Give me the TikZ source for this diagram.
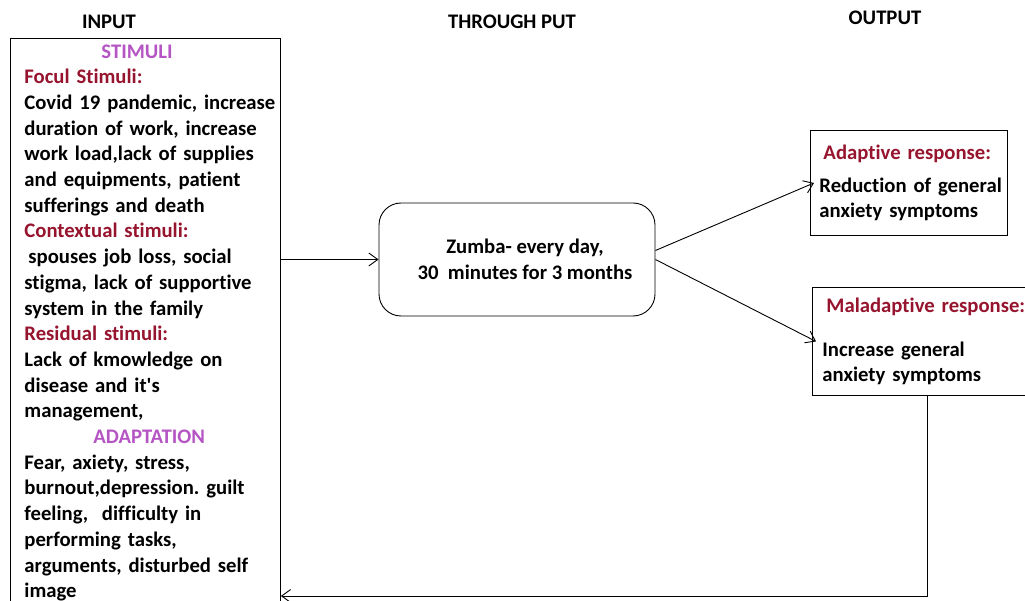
\documentclass[tikz,border=0pt]{standalone}
\usepackage{fontspec}
\setmainfont{Carlito}[Ligatures={TeX,NoCommon}]
\usetikzlibrary{positioning,arrows.meta}
\definecolor{headpurple}{RGB}{180,85,195}
\definecolor{headred}{RGB}{150,20,45}
\frenchspacing
\tikzset{
roy/.style={
    >={Straight Barb[length=9pt,width=13pt]},
    x=1pt,
    y=-1pt,
    line width=0.9pt,
    font=\bfseries\fontsize{20.7}{25.7}\selectfont
},
title/.style={
    anchor=center,
    inner sep=0pt
},
box/.style={
    draw,
    rectangle,
    anchor=north west,
    align=left,
    inner xsep=0pt
},
process/.style={
    draw,
    rounded corners=22pt,
    minimum width=276pt,
    minimum height=113pt,
    align=center
},
flows/.style={
    ->
}}

\begin{document}
\begin{tikzpicture}[roy]
\useasboundingbox (0,0) rectangle (1025,601);

\node[title]    (tin)     at (109,22)    {INPUT};
\node[title]    (tthru)   at (512,22)    {THROUGH PUT};
\node[title]    (tout)    at (885,18)    {OUTPUT};

\node[box, text width=270pt, inner ysep=6pt]    (input)    at (10,38)    {%
\leftskip=14pt
\hspace*{77pt}\textcolor{headpurple}{STIMULI}\\
\textcolor{headred}{Focul Stimuli:}\\
Covid 19 pandemic, increase\\
duration of work, increase\\
work load,lack of supplies\\
and equipments, patient\\
sufferings and death\\
\textcolor{headred}{Contextual stimuli:}\\
\hspace*{4pt}spouses job loss, social\\
stigma, lack of supportive\\
system in the family\\
\textcolor{headred}{Residual stimuli:}\\
Lack of kmowledge on\\
disease and it\textquotesingle s\\
management,\\
\hspace*{69pt}\textcolor{headpurple}{ADAPTATION}\\
Fear, axiety, stress,\\
burnout,depression. guilt\\
feeling,\ \ difficulty in\\
performing tasks,\\
arguments, disturbed self\\
image\\[22pt]};

\node[process]    (zumba)    at (517,259.5)    {\hspace*{16pt}Zumba- every day,\\\hspace*{16pt}30\ \ minutes for 3 months};

\node[box, text width=197pt, minimum height=105pt]    (adaptive)    at (810,130)    {%
\leftskip=9pt
\hspace*{4pt}\textcolor{headred}{Adaptive response:}\\[7pt]
Reduction of general\\
anxiety symptoms\par};

\node[box, text width=230pt, minimum height=108pt]    (malad)    at (812,287)    {%
\leftskip=10pt
\hspace*{4pt}\textcolor{headred}{Maladaptive response:}\\[18pt]
Increase general\\
anxiety symptoms\par\vspace*{6pt}};

\coordinate    (fb)    at (600,596);

\draw[flows]    (input.east |- zumba.west) -- (zumba.west);
\draw[flows]    ([yshift=9pt]zumba.east) -- ([xshift=4pt]adaptive.west);
\draw[flows]    (zumba.east) -- ([xshift=4pt]malad.west);
\draw[flows]    (malad.south) -- (malad.south |- fb) -- (input.east |- fb);
\end{tikzpicture}
\end{document}
